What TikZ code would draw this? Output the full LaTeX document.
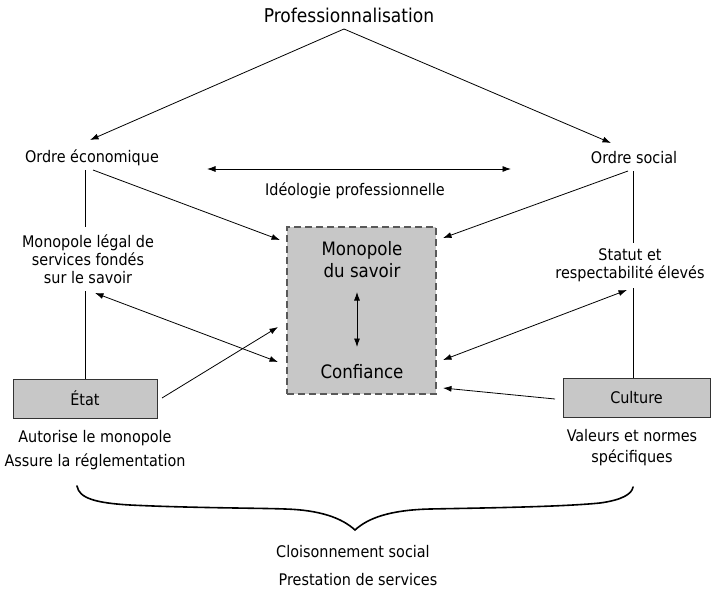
\documentclass[tikz,border=0pt]{standalone}
\usepackage{fontspec}
\setmainfont{DejaVu Sans Condensed}
\usetikzlibrary{arrows.meta}
\begin{document}
\begin{tikzpicture}[x=1pt,y=-1pt,
  lbl/.style={font=\fontsize{16}{18}\selectfont, align=center, inner sep=0pt},
  greybox/.style={draw=black!80, fill=black!22, line width=0.8pt, inner sep=0pt},
  arr/.style={-{Latex[length=8.5pt,width=6pt]}, line width=0.8pt},
  darr/.style={{Latex[length=8.5pt,width=6pt]}-{Latex[length=8.5pt,width=6pt]}, line width=0.8pt},
  plain/.style={line width=0.8pt}]
\useasboundingbox (0,0) rectangle (712,591);

% title and the two orders
\node[lbl, font=\fontsize{19}{22}\selectfont] (prof) at (349,15) {Professionnalisation};
\coordinate (apex) at (344,29);
\node[lbl] (eco) at (92,158) {Ordre économique};
\node[lbl] (soc) at (634,158) {Ordre social};
\coordinate (ecoTop) at (90,140);
\coordinate (socTop) at (611,143);
\draw[arr] (apex) -- (ecoTop);
\draw[arr] (apex) -- (socTop);

% professional ideology between the two orders
\coordinate (ideoL) at (207,169);
\coordinate (ideoR) at (511,169);
\draw[darr] (ideoL) -- (ideoR);
\node[lbl] (ideo) at (355,191) {Idéologie professionnelle};

% central box
\node[greybox, draw=black!65, line width=1.1pt, dash pattern=on 7pt off 4pt,
      minimum width=149pt, minimum height=167pt] (mono) at (361.5,310.5) {};
\node[lbl, font=\fontsize{18.5}{22}\selectfont] (savoir) at (362,260) {Monopole\\du savoir};
\node[lbl, font=\fontsize{18.5}{22}\selectfont] (conf) at (362,372) {Confiance};
\coordinate (vTop) at (357,292);
\coordinate (vBot) at (357,347);
\draw[darr] (vTop) -- (vBot);

% left column
\node[lbl] (legal) at (88,259) {Monopole légal de\\services fondés\\sur le savoir};
\node[greybox, minimum width=144pt, minimum height=39pt] (etat) at (85,398.5) {};
\node[lbl] at (etat) {État};
\node[lbl, font=\fontsize{16}{24}\selectfont] (autor) at (95,450) {Autorise le monopole\\Assure la réglementation};
\coordinate (ecoBot) at (85,170);
\coordinate (legalTop) at (85,227);
\coordinate (legalBot) at (85,291);
\draw[plain] (ecoBot) -- (legalTop);
\draw[plain] (legalBot) -- (etat.north -| legalBot);

% right column
\node[lbl] (statut) at (630,265) {Statut et\\respectabilité élevés};
\node[greybox, minimum width=147pt, minimum height=39pt] (cult) at (636.5,397.5) {};
\node[lbl] at (cult) {Culture};
\node[lbl, font=\fontsize{16}{21}\selectfont] (valeurs) at (632,448) {Valeurs et normes\\spécifiques};
\coordinate (socBot) at (633,171);
\coordinate (statTop) at (633,243);
\coordinate (statBot) at (633,288);
\draw[plain] (socBot) -- (statTop);
\draw[plain] (statBot) -- (cult.north -| statBot);

% links towards the central box
\coordinate (ecoOut) at (93,170);
\coordinate (monoTL) at (280,240);
\draw[arr] (ecoOut) -- (monoTL);
\coordinate (socOut) at (628,171);
\coordinate (monoTR) at (443,238);
\draw[arr] (socOut) -- (monoTR);
\coordinate (legalArr) at (95,293);
\coordinate (confL) at (278,362);
\draw[darr] (legalArr) -- (confL);
\coordinate (etatOut) at (162,398);
\coordinate (monoL) at (278,327);
\draw[arr] (etatOut) -- (monoL);
\coordinate (statArr) at (627,290);
\coordinate (confR) at (443,360);
\draw[darr] (statArr) -- (confR);
\coordinate (cultOut) at (555,399);
\coordinate (confR2) at (443,388);
\draw[arr] (cultOut) -- (confR2);

% brace gathering the two sides
\coordinate (brL) at (77,486);
\coordinate (brTip) at (355,530);
\coordinate (brR) at (633,487);
\draw[line width=1.6pt, line cap=round]
  (brL) .. controls (79,498) and (95,503) .. (130,505)
  .. controls (190,508) and (260,508) .. (285,509)
  .. controls (320,510) and (342,518) .. (brTip)
  .. controls (368,518) and (390,510) .. (430,509)
  .. controls (480,508) and (560,507) .. (600,503)
  .. controls (622,500) and (632,494) .. (brR);

\node[lbl] (cloison) at (353,552) {Cloisonnement social};
\node[lbl] (prest) at (358,580) {Prestation de services};
\end{tikzpicture}
\end{document}
